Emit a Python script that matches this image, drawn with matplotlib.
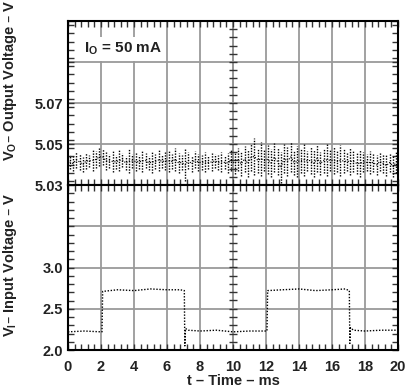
import matplotlib
matplotlib.use("Agg")
import matplotlib.pyplot as plt
from matplotlib.ticker import MultipleLocator, FixedLocator
import numpy as np

plt.rcParams['font.family'] = ['Liberation Sans', 'DejaVu Sans']
plt.rcParams['font.weight'] = 'bold'

# ---- data ----
x_ticks = [0, 2, 4, 6, 8, 10, 12, 14, 16, 18, 20]
vo_ticks = [5.03, 5.05, 5.07, 5.09, 5.11]
vo_tick_labels = ['5.03', '5.05', '5.07', '', '']
vi_ticks = [2.0, 2.5, 3.0, 3.5, 4.0]
vi_tick_labels = ['2.0', '2.5', '3.0', '', '']

# output voltage noise envelope, one bin per 0.2 ms (0..20 ms)
vo_time = [0.1 + 0.2 * i for i in range(100)]
vo_high = [
    5.0445, 5.0440, 5.0460, 5.0450, 5.0435, 5.0455, 5.0445, 5.0470, 5.0465, 5.0480,
    5.0475, 5.0460, 5.0450, 5.0465, 5.0445, 5.0470, 5.0455, 5.0440, 5.0475, 5.0450,
    5.0460, 5.0445, 5.0470, 5.0455, 5.0440, 5.0465, 5.0450, 5.0475, 5.0445, 5.0460,
    5.0470, 5.0450, 5.0480, 5.0455, 5.0445, 5.0475, 5.0460, 5.0440, 5.0465, 5.0450,
    5.0445, 5.0460, 5.0440, 5.0455, 5.0450, 5.0445, 5.0460, 5.0440, 5.0455, 5.0470,
    5.0455, 5.0480, 5.0460, 5.0490, 5.0470, 5.0500, 5.0530, 5.0480, 5.0510, 5.0470,
    5.0495, 5.0475, 5.0505, 5.0480, 5.0460, 5.0500, 5.0485, 5.0510, 5.0470, 5.0490,
    5.0475, 5.0500, 5.0465, 5.0485, 5.0470, 5.0495, 5.0460, 5.0480, 5.0500, 5.0470,
    5.0485, 5.0465, 5.0495, 5.0475, 5.0460, 5.0480, 5.0465, 5.0455, 5.0470, 5.0460,
    5.0450, 5.0465, 5.0455, 5.0445, 5.0460, 5.0450, 5.0445, 5.0455, 5.0440, 5.0465]
vo_low = [
    5.0380, 5.0370, 5.0385, 5.0375, 5.0365, 5.0380, 5.0390, 5.0370, 5.0385, 5.0395,
    5.0400, 5.0375, 5.0385, 5.0365, 5.0380, 5.0370, 5.0390, 5.0375, 5.0360, 5.0385,
    5.0370, 5.0380, 5.0365, 5.0385, 5.0375, 5.0360, 5.0380, 5.0370, 5.0385, 5.0375,
    5.0365, 5.0380, 5.0370, 5.0360, 5.0375, 5.0320, 5.0380, 5.0365, 5.0385, 5.0370,
    5.0375, 5.0365, 5.0380, 5.0370, 5.0385, 5.0375, 5.0365, 5.0380, 5.0360, 5.0370,
    5.0355, 5.0370, 5.0345, 5.0365, 5.0340, 5.0370, 5.0350, 5.0360, 5.0345, 5.0370,
    5.0355, 5.0340, 5.0365, 5.0350, 5.0310, 5.0360, 5.0345, 5.0365, 5.0350, 5.0340,
    5.0360, 5.0345, 5.0370, 5.0355, 5.0340, 5.0365, 5.0350, 5.0360, 5.0345, 5.0370,
    5.0355, 5.0365, 5.0345, 5.0360, 5.0370, 5.0350, 5.0365, 5.0355, 5.0340, 5.0365,
    5.0370, 5.0355, 5.0365, 5.0350, 5.0370, 5.0360, 5.0345, 5.0365, 5.0340, 5.0360]

# input voltage step trace
vi_time = [0.0, 1.0, 2.0, 2.06, 2.1, 3.0, 4.0, 5.0, 6.0, 6.8, 7.05, 7.08, 7.12,
           7.3, 8.0, 9.0, 10.0, 11.0, 12.0, 12.06, 12.1, 13.0, 14.0, 15.0, 16.0,
           16.8, 17.05, 17.08, 17.12, 17.3, 18.0, 19.0, 20.0]
vi_vals = [2.22, 2.23, 2.22, 2.22, 2.71, 2.73, 2.72, 2.74, 2.73, 2.73, 2.72, 2.05, 2.26,
           2.24, 2.23, 2.24, 2.22, 2.23, 2.23, 2.23, 2.72, 2.73, 2.74, 2.72, 2.73,
           2.74, 2.72, 2.08, 2.27, 2.24, 2.23, 2.24, 2.24]

W, H = 407, 390
fig = plt.figure(figsize=(W / 100, H / 100), dpi=100)
L, R, T, B, M = 68, 398, 21, 350, 185
ax1 = fig.add_axes([L / W, (H - M) / H, (R - L) / W, (M - T) / H])
ax2 = fig.add_axes([L / W, (H - B) / H, (R - L) / W, (B - M) / H], sharex=ax1)

grid_c = '#9a9a9a'
for ax in (ax1, ax2):
    ax.set_xlim(0, 20)
    ax.xaxis.set_major_locator(FixedLocator(x_ticks))
    ax.xaxis.set_minor_locator(MultipleLocator(0.4))
    ax.grid(True, which='major', color=grid_c, lw=1.3, zorder=0)
    ax.set_axisbelow(True)
    ax.tick_params(which='both', direction='in', top=True, right=True,
                   length=4, width=1.0, color='#333333',
                   labelsize=10.5, labelcolor='#222222')
    for s in ax.spines.values():
        s.set_linewidth(1.5)
        s.set_color('black')

ax1.set_ylim(5.03, 5.11)
ax1.set_yticks(vo_ticks)
ax1.set_yticklabels(vo_tick_labels)
ax1.yaxis.set_minor_locator(MultipleLocator(0.004))
ax1.tick_params(axis='x', labelbottom=False)

ax2.set_ylim(2.0, 4.0)
ax2.set_yticks(vi_ticks)
ax2.set_yticklabels(vi_tick_labels)
ax2.yaxis.set_minor_locator(MultipleLocator(0.1))
ax2.tick_params(axis='x', pad=7)

for lab in ax1.get_yticklabels() + ax2.get_yticklabels() + ax2.get_xticklabels():
    lab.set_fontweight('bold')

# center vertical graticule ticks at x = 10
for ax, step, lo, hi in ((ax1, 0.004, 5.03, 5.11), (ax2, 0.1, 2.0, 4.0)):
    ys = np.arange(lo + step, hi - step / 2, step)
    ax.hlines(ys, 10 - 0.22, 10 + 0.22, color='#333333', lw=1.0, zorder=1)
    ax.axvline(10, color='#777777', lw=1.3, zorder=0.5)

# output noise
ax1.vlines(vo_time, vo_low, vo_high, colors='black', linestyles=(0, (1, 1)),
           lw=1.0, zorder=3)
mid = [(a + b) / 2 for a, b in zip(vo_low, vo_high)]
ax1.plot(vo_time, mid, color='black', ls=(0, (1, 1.5)), lw=0.8, zorder=3)

# input step
ax2.plot(vi_time, vi_vals, color='black', ls=(0, (1, 1.2)), lw=1.0, zorder=3)

ax1.text(1.0, 5.0965, r'I$_\mathregular{O}$ = 50 mA', fontsize=11, fontweight='bold',
         va='center', ha='left', color='#222222',
         bbox=dict(facecolor='white', edgecolor='none', pad=2.5), zorder=4)

fig.text(10 / W, 1 - 80 / H, r'V$_\mathregular{O}$– Output Voltage – V',
         rotation=90, ha='center', va='center', fontsize=10.5, fontweight='bold',
         color='#222222')
fig.text(10 / W, 1 - 265 / H, r'V$_\mathregular{I}$– Input Voltage – V',
         rotation=90, ha='center', va='center', fontsize=10.5, fontweight='bold',
         color='#222222')
fig.text((L + R) / 2 / W, 1 - 381 / H, 't – Time – ms', ha='center', va='center',
         fontsize=10.5, fontweight='bold', color='#222222')

fig.savefig('out.png', dpi=100)
